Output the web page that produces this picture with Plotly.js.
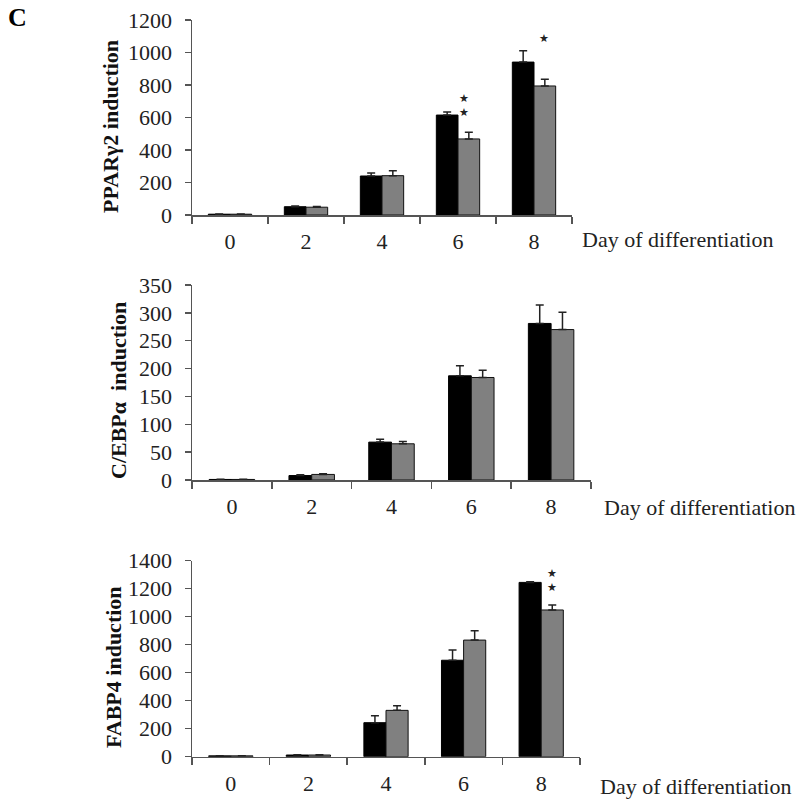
<!DOCTYPE html>
<html>
<head>
<meta charset="utf-8">
<script src="https://cdn.plot.ly/plotly-3.0.1.min.js"></script>
<style>html,body{margin:0;padding:0;background:#fff;}#chart{width:800px;height:807px;}</style>
</head>
<body>
<div id="chart"></div>
<script>
// ---- data ----
const days = ['0', '2', '4', '6', '8'];

const pparBlack = [5, 51, 240, 615, 941];
const pparBlackErr = [1, 5, 19, 19, 70];
const pparGray = [5, 48, 242, 468, 794];
const pparGrayErr = [1, 4, 31, 41, 41];

const cebpBlack = [1, 8, 68, 187, 281];
const cebpBlackErr = [0.5, 1.5, 5, 18, 33];
const cebpGray = [1, 10, 65, 184, 270];
const cebpGrayErr = [0.5, 1, 4, 13, 31];

const fabpBlack = [6, 12, 243, 689, 1245];
const fabpBlackErr = [1, 2, 50, 73, 5];
const fabpGray = [6, 12, 331, 833, 1048];
const fabpGrayErr = [1, 2, 33, 67, 35];

const yTitles = ['PPAR\u03b32 induction', 'C/EBP\u03b1&nbsp;&nbsp;induction', 'FABP4 induction'];
const xTitle = 'Day of differentiation';

// significance marks: panel index, day, number of stars, value level of mark
const sigPanel = [0, 0, 2];
const sigDay = ['6', '8', '8'];
const sigCount = [2, 1, 2];
const sigLevel = [666, 1077, 1250];

// ---- drawing ----
const serif = 'Liberation Serif, Times New Roman, serif';
const blackCol = '#000000';
const grayCol = '#808080';
const lineCol = '#555555';
const textCol = '#222222';

const panels = [
  {b: pparBlack, be: pparBlackErr, g: pparGray, ge: pparGrayErr, range: [0, 1200], dtick: 200,
   x0: 192, x1: 572, top: 20, bottom: 215, titleX: 111, titleY: 127, xtX: 580, xtY: 240},
  {b: cebpBlack, be: cebpBlackErr, g: cebpGray, ge: cebpGrayErr, range: [0, 350], dtick: 50,
   x0: 192, x1: 591, top: 285, bottom: 480, titleX: 118, titleY: 391, xtX: 602, xtY: 507},
  {b: fabpBlack, be: fabpBlackErr, g: fabpGray, ge: fabpGrayErr, range: [0, 1400], dtick: 200,
   x0: 192, x1: 580, top: 560.7, bottom: 756.7, titleX: 113, titleY: 667, xtX: 598, xtY: 786}
];
const sigXShift = [6, 10, 11];

const W = 800, H = 807;
const FS = 22;
const traces = [];
const layout = {
  width: W, height: H,
  margin: {l: 0, r: 0, t: 0, b: 0},
  paper_bgcolor: '#fff', plot_bgcolor: '#fff',
  showlegend: false,
  barmode: 'group', bargap: 0.43, bargroupgap: 0,
  font: {family: serif, color: textCol, size: FS},
  annotations: []
};

panels.forEach((p, i) => {
  const xa = i === 0 ? 'x' : 'x' + (i + 1);
  const ya = i === 0 ? 'y' : 'y' + (i + 1);
  const zeros = days.map(() => 0);
  traces.push({
    type: 'bar', x: days, y: p.b, xaxis: xa, yaxis: ya,
    marker: {color: blackCol, line: {color: '#000', width: 1}},
    error_y: {type: 'data', symmetric: false, array: p.be, arrayminus: zeros,
              color: '#222', thickness: 1.5, width: 4},
    hoverinfo: 'skip'
  });
  traces.push({
    type: 'bar', x: days, y: p.g, xaxis: xa, yaxis: ya,
    marker: {color: grayCol, line: {color: '#111', width: 1}},
    error_y: {type: 'data', symmetric: false, array: p.ge, arrayminus: zeros,
              color: '#222', thickness: 1.5, width: 4},
    hoverinfo: 'skip'
  });
  const xkey = i === 0 ? 'xaxis' : 'xaxis' + (i + 1);
  const ykey = i === 0 ? 'yaxis' : 'yaxis' + (i + 1);
  layout[xkey] = {
    domain: [p.x0 / W, p.x1 / W], anchor: ya, type: 'category',
    range: [-0.5, days.length - 0.5],
    tickson: 'boundaries', ticks: 'outside', ticklen: 7, tickwidth: 1.5, tickcolor: lineCol,
    ticklabelstandoff: 6,
    showline: true, linecolor: lineCol, linewidth: 1.5,
    showgrid: false, zeroline: false, fixedrange: true,
    tickfont: {family: serif, size: FS, color: textCol}
  };
  layout[ykey] = {
    domain: [(H - p.bottom) / H, (H - p.top) / H], anchor: xa,
    range: p.range, dtick: p.dtick, tick0: 0,
    ticks: 'outside', ticklen: 6, tickwidth: 1.5, tickcolor: lineCol,
    ticklabelstandoff: 8,
    showline: true, linecolor: lineCol, linewidth: 1.5,
    showgrid: false, zeroline: false, fixedrange: true,
    tickfont: {family: serif, size: FS, color: textCol}
  };
  // y title
  layout.annotations.push({
    text: '<b>' + yTitles[i] + '</b>', textangle: -90,
    xref: 'paper', yref: 'paper',
    x: p.titleX / W, y: (H - p.titleY) / H,
    xanchor: 'center', yanchor: 'middle', showarrow: false,
    font: {family: serif, size: FS, color: '#111'}
  });
  // x title
  layout.annotations.push({
    text: xTitle, xref: 'paper', yref: 'paper',
    x: p.xtX / W, y: (H - p.xtY) / H,
    xanchor: 'left', yanchor: 'middle', showarrow: false,
    font: {family: serif, size: FS, color: textCol}
  });
});

// significance stars
sigPanel.forEach((pi, k) => {
  const xa = pi === 0 ? 'x' : 'x' + (pi + 1);
  const ya = pi === 0 ? 'y' : 'y' + (pi + 1);
  const xi = days.indexOf(sigDay[k]);
  layout.annotations.push({
    text: Array(sigCount[k]).fill('\u2605').join('<br>'),
    xref: xa, yref: ya, x: xi, y: sigLevel[k],
    xshift: sigXShift[k], yshift: 1,
    xanchor: 'center', yanchor: 'middle', showarrow: false,
    font: {family: 'DejaVu Sans', size: 11, color: '#222'}
  });
});

// panel letter
layout.annotations.push({
  text: '<b>C</b>', xref: 'paper', yref: 'paper', x: 6 / W, y: (H - 18) / H,
  xanchor: 'left', yanchor: 'middle', showarrow: false,
  font: {family: serif, size: 26, color: '#000'}
});

Plotly.newPlot('chart', traces, layout, {displayModeBar: false, staticPlot: true});
</script>
</body>
</html>
